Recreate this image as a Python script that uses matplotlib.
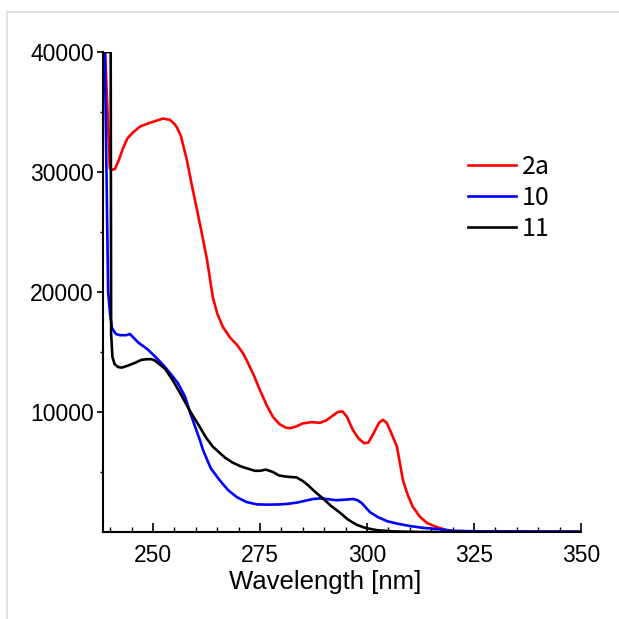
# -*- coding: utf-8 -*-
"""
UV absorption spectra of 2a, 10 and 11
"""

import numpy as np
import matplotlib
matplotlib.use("Agg")
import matplotlib.pyplot as plt
from matplotlib.lines import Line2D


# ---- data (nm, molar absorptivity) ----
wl_2a = [238.3, 238.8, 239.9, 240.6, 241.1, 242.0, 243.0, 244.0, 245.3,
         247.0, 249.3, 251.0, 252.3, 253.9, 255.0, 255.6, 256.5, 257.2,
         257.9, 259.0, 260.3, 261.5, 262.6, 264.0, 265.0, 266.3, 268.0,
         269.6, 271.0, 271.9, 273.5, 275.0, 276.5, 278.0, 279.5, 281.0,
         282.0, 283.5, 285.0, 287.0, 289.0, 290.5, 292.0, 293.2, 294.3,
         295.3, 296.7, 298.0, 299.3, 300.3, 301.5, 302.8, 303.7, 304.6,
         305.6, 307.0, 307.7, 308.4, 309.5, 310.7, 312.3, 314.0, 316.0,
         317.7, 319.0, 320.5, 322.0, 350.0]
eps_2a = [43000, 40000, 30300, 30200, 30250, 31000, 32000, 32800, 33300,
          33800, 34100, 34300, 34450, 34350, 34000, 33700, 33000, 32000,
          31000, 29000, 26800, 24700, 22700, 19500, 18200, 17100, 16200,
          15600, 14900, 14300, 13100, 11800, 10600, 9600, 9000, 8700,
          8650, 8800, 9050, 9150, 9100, 9300, 9700, 10000, 10050,
          9600, 8500, 7800, 7400, 7450, 8200, 9100, 9350, 9100,
          8300, 7100, 5700, 4300, 3100, 2100, 1300, 750, 450,
          250, 120, 40, 0, 0]

wl_10 = [238.6, 239.0, 239.5, 240.0, 240.4, 241.3, 242.3, 243.7, 244.6,
         246.5, 248.8, 250.8, 252.8, 254.5, 255.8, 257.0, 257.5, 258.6,
         259.8, 261.0, 261.7, 263.5, 265.6, 267.5, 269.6, 271.8, 274.3,
         277.0, 279.7, 281.5, 283.6, 285.5, 287.4, 289.0, 290.5, 292.9,
         295.0, 296.7, 297.8, 298.8, 299.8, 300.7, 302.5, 304.7, 307.0,
         310.0, 313.0, 316.3, 320.1, 326.4, 350.0]
eps_10 = [43000, 33000, 20000, 18000, 17000, 16500, 16400, 16400, 16500,
          15800, 15200, 14500, 13750, 13000, 12400, 11600, 11250, 10000,
          8800, 7600, 6800, 5300, 4300, 3500, 2900, 2500, 2300,
          2280, 2300, 2350, 2450, 2600, 2750, 2800, 2750, 2650,
          2700, 2750, 2650, 2400, 2000, 1650, 1250, 900, 700,
          500, 350, 250, 100, 50, 30]

# values above the top of the scale were saturated at 40000
wl_11 = [238.3, 240.1, 240.2, 240.5, 241.0, 241.8, 242.7, 244.0, 245.8,
         247.3, 248.6, 249.6, 250.4, 252.8, 254.5, 256.3, 258.6, 261.0,
         262.5, 264.0, 266.8, 268.5, 270.3, 271.5, 273.8, 275.0, 276.4,
         278.0, 279.5, 281.5, 283.5, 285.0, 286.2, 287.4, 288.5, 289.7,
         291.5, 293.7, 295.5, 297.6, 299.5, 302.3, 306.1, 312.0, 350.0]
eps_11 = [40000, 40000, 16500, 14600, 14000, 13750, 13700, 13850, 14100,
          14350, 14400, 14400, 14300, 13600, 12700, 11600, 10100, 8700,
          7800, 7100, 6200, 5800, 5500, 5350, 5100, 5100, 5200,
          5000, 4700, 4600, 4550, 4250, 3900, 3500, 3150, 2800,
          2200, 1600, 1050, 600, 350, 150, 50, 0, 0]

series_names = ["2a", "10", "11"]
series_colors = ["#ff0000", "#0000ff", "#000000"]

x_major = [250, 275, 300, 325, 350]
y_major = [10000, 20000, 30000, 40000]


# ----------
def main():
    plt.rcParams["font.family"] = ["Liberation Sans", "DejaVu Sans"]

    fig = plt.figure(figsize=(6.19, 6.19), dpi=100)
    ax = fig.add_axes([103 / 619, 87 / 619, 478 / 619, 480 / 619])

    curves = [(wl_2a, eps_2a), (wl_10, eps_10), (wl_11, eps_11)]
    for (xx, yy), name, col in zip(curves, series_names, series_colors):
        ax.plot(xx, yy, color=col, linewidth=1.9, label=name,
                solid_joinstyle="round", solid_capstyle="round")

    ax.set_xlim(238.3, 350)
    ax.set_ylim(0, 40000)

    ax.spines["top"].set_visible(False)
    ax.spines["right"].set_visible(False)
    ax.spines["left"].set_linewidth(1.5)
    ax.spines["bottom"].set_linewidth(1.5)

    ax.set_xticks(x_major)
    ax.set_xticklabels([str(v) for v in x_major])
    ax.set_xticks(np.arange(240, 351, 5), minor=True)
    ax.set_yticks(y_major)
    ax.set_yticklabels([str(v) for v in y_major])
    ax.set_yticks(np.arange(5000, 40001, 5000), minor=True)

    ax.tick_params(axis="x", which="major", direction="in", length=6.5,
                   width=1.2, labelsize=16.5, pad=8.5)
    ax.tick_params(axis="x", which="minor", direction="in", length=3.5,
                   width=1.0)
    ax.tick_params(axis="y", which="major", direction="out", length=4.5,
                   width=1.2, labelsize=16.5, pad=2)
    ax.tick_params(axis="y", which="minor", direction="out", length=2.5,
                   width=1.0)

    ax.set_xlabel("Wavelength [nm]", fontsize=18.5, labelpad=0)
    ax.xaxis.set_label_coords(0.4655, -0.079)

    # ---- legend ----
    handles = [Line2D([], [], color=c, linewidth=1.9) for c in series_colors]
    ax.legend(handles, series_names, loc="upper left",
              bbox_to_anchor=(0.764, 0.788), frameon=False,
              borderpad=0, borderaxespad=0, handlelength=1.9,
              handletextpad=0.25, labelspacing=0.2,
              prop={"family": ["Noto Sans CJK JP", "DejaVu Sans"],
                    "size": 18})

    # ---- light frame of the original screenshot ----
    fig.add_artist(Line2D([7 / 619, 1.0], [1 - 12 / 619, 1 - 12 / 619],
                          color="#dcdcdc", linewidth=1.2,
                          transform=fig.transFigure))
    fig.add_artist(Line2D([7 / 619, 7 / 619], [0.0, 1 - 12 / 619],
                          color="#dcdcdc", linewidth=1.2,
                          transform=fig.transFigure))

    fig.savefig("out.png", dpi=100)
    plt.close(fig)


# ----------
if __name__ == "__main__":
    main()
